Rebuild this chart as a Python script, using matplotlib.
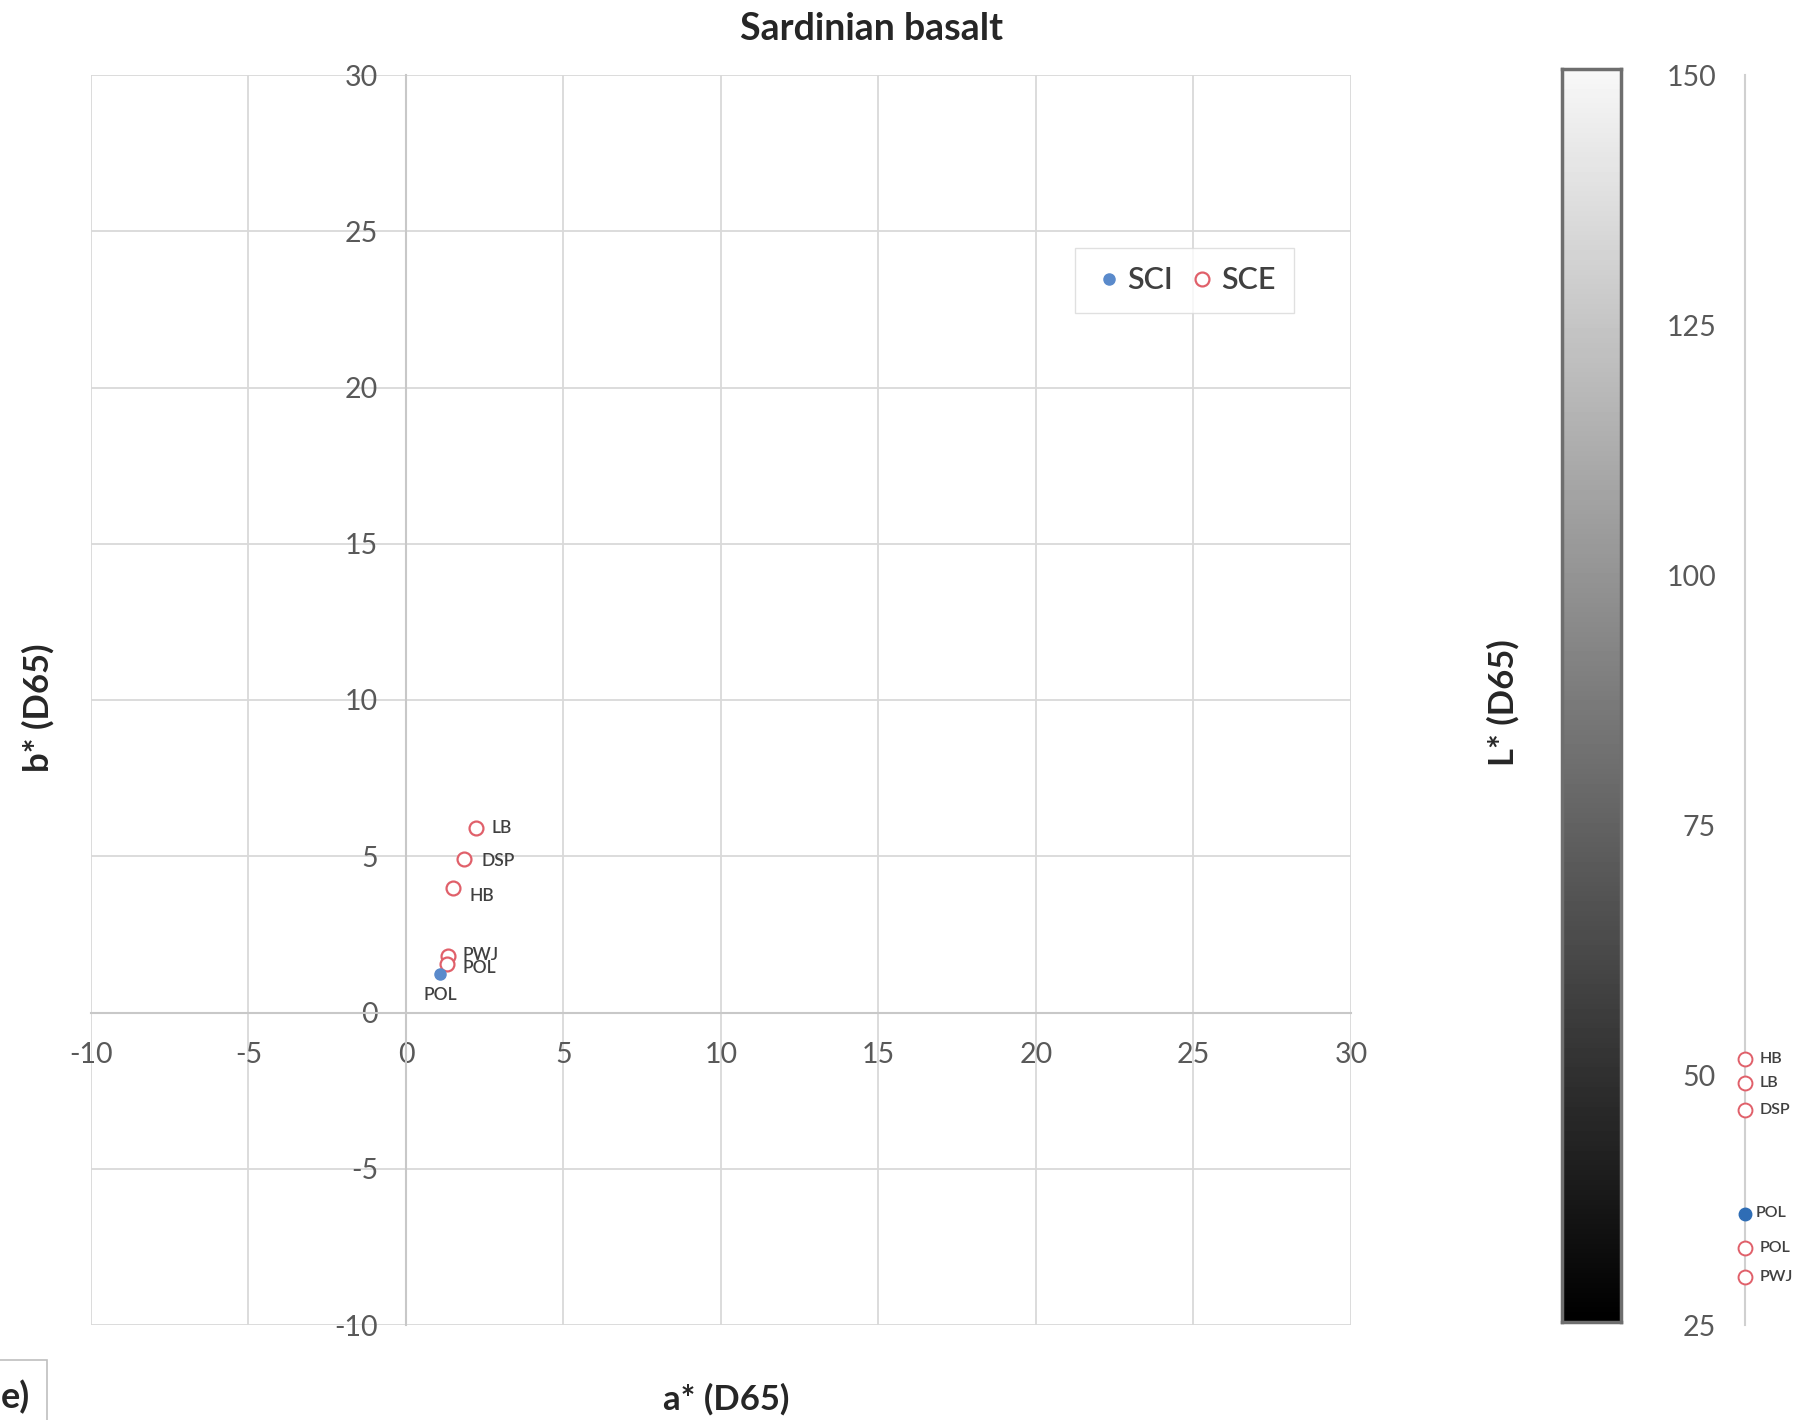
import matplotlib
matplotlib.use("Agg")
import matplotlib.pyplot as plt
import numpy as np
from matplotlib.patches import Rectangle

plt.rcParams['font.family'] = ['Lato', 'DejaVu Sans']

# ---- data ----
sci_labels = ["POL"]
sci_a = [1.08]
sci_b = [1.22]
sci_L = [36.1]

sce_labels = ["LB", "DSP", "HB", "PWJ", "POL"]
sce_a = [2.21, 1.85, 1.48, 1.33, 1.30]
sce_b = [5.90, 4.91, 3.99, 1.81, 1.55]
sce_L = [49.2, 46.5, 51.6, 29.8, 32.7]

ab_ticks = [-10, -5, 0, 5, 10, 15, 20, 25, 30]
L_ticks = [25, 50, 75, 100, 125, 150]

BLUE = "#5A8ACB"
BLUE_DARK = "#2F6DB5"
RED = "#E0606A"
GRID = "#D9D9D9"
TXT = "#595959"

W, H = 1806, 1420
fig = plt.figure(figsize=(W / 100, H / 100), dpi=100)

def fx(px):
    return px / W

def fy(py):
    return 1 - py / H

# ---- main a*/b* plot ----
ax = fig.add_axes([fx(91), fy(1325), fx(1351) - fx(91), fy(75) - fy(1325)])
ax.set_xlim(-10, 30)
ax.set_ylim(-10, 30)
ax.set_xticks(ab_ticks)
ax.set_yticks(ab_ticks)
ax.grid(True, color=GRID, linewidth=1.3)
ax.set_axisbelow(True)
for s in ["top", "right"]:
    ax.spines[s].set_visible(False)
ax.spines["left"].set_position(("data", 0))
ax.spines["bottom"].set_position(("data", 0))
for s in ["left", "bottom"]:
    ax.spines[s].set_color("#C8C8C8")
    ax.spines[s].set_linewidth(1.5)
ax.tick_params(length=0, labelsize=20.5, labelcolor=TXT)
ax.tick_params(axis="y", pad=20)
ax.tick_params(axis="x", pad=21)
ax.set_xticklabels([str(t) for t in ab_ticks])
ax.set_yticklabels([str(t) for t in ab_ticks])

ax.plot(sci_a, sci_b, 'o', color=BLUE, markersize=8, linestyle='none', label="SCI", zorder=4)
ax.plot(sce_a, sce_b, 'o', markerfacecolor='white', markeredgecolor=RED, markeredgewidth=1.6,
        markersize=10, linestyle='none', label="SCE", zorder=3)

sce_off = [(16, 0), (17, -2), (17, -8), (15, 1), (16, -4)]
for lab, a, b, off in zip(sce_labels, sce_a, sce_b, sce_off):
    ax.annotate(lab, (a, b), xytext=off, textcoords='offset pixels', fontsize=12.5,
                fontweight='semibold', color="#404040", ha='left', va='center')
ax.annotate(sci_labels[0], (sci_a[0], sci_b[0]), xytext=(0, -21), textcoords='offset pixels',
            fontsize=12.5, fontweight='semibold', color="#404040", ha='center', va='center')

leg = ax.legend(loc='upper left', bbox_to_anchor=(fx(1075), fy(248)), bbox_transform=fig.transFigure,
                ncol=2, fontsize=22, frameon=True, fancybox=False, edgecolor="#D9D9D9",
                handletextpad=0.12, columnspacing=0.45, handlelength=1.0, borderpad=0.6,
                borderaxespad=0, markerscale=1.0)
for t in leg.get_texts():
    t.set_color("#404040")
    t.set_fontweight('semibold')

# ---- colour bar ----
cax = fig.add_axes([fx(1562), fy(1322), fx(1621) - fx(1562), fy(69) - fy(1322)])
grad = np.linspace(0, 1, 256).reshape(-1, 1)
cax.imshow(grad, aspect='auto', cmap='gray', origin='lower', extent=[0, 1, 0, 1], vmin=0, vmax=1.03)
cax.set_xticks([])
cax.set_yticks([])
for s in cax.spines.values():
    s.set_color("#6E6E6E")
    s.set_linewidth(2.5)

# ---- L* axis ----
lax = fig.add_axes([fx(1730), fy(1325), fx(1806) - fx(1730), fy(75) - fy(1325)])
lax.set_xlim(-0.2, 0.8)
lax.set_ylim(25, 150)
lax.set_yticks(L_ticks)
lax.set_xticks([])
for s in ["top", "right", "bottom"]:
    lax.spines[s].set_visible(False)
lax.spines["left"].set_position(("data", 0))
lax.spines["left"].set_color("#D0D0D0")
lax.spines["left"].set_linewidth(1.5)
lax.tick_params(axis='y', length=0, labelsize=20.5, labelcolor=TXT, pad=21)
lax.patch.set_alpha(0)

lax.plot([0] * len(sci_L), sci_L, 'o', color=BLUE_DARK, markersize=9, linestyle='none', zorder=4, clip_on=False)
lax.plot([0] * len(sce_L), sce_L, 'o', markerfacecolor='white', markeredgecolor=RED,
         markeredgewidth=1.4, markersize=10, linestyle='none', zorder=3, clip_on=False)
for lab, L in zip(sce_labels, sce_L):
    lax.annotate(lab, (0, L), xytext=(14, 0), textcoords='offset pixels', fontsize=11.5,
                 fontweight='semibold', color="#404040", ha='left', va='center')
for lab, L in zip(sci_labels, sci_L):
    lax.annotate(lab, (0, L), xytext=(10, 1), textcoords='offset pixels', fontsize=11.5,
                 fontweight='semibold', color="#404040", ha='left', va='center')

# ---- text ----
fig.text(fx(872), fy(29), "Sardinian basalt", ha='center', va='center', fontsize=27,
         fontweight='bold', color="#262626")
fig.text(fx(38), fy(708), "b* (D65)", ha='center', va='center', rotation=90, fontsize=25,
         fontweight='bold', color="#262626")
fig.text(fx(726), fy(1399), "a* (D65)", ha='center', va='center', fontsize=25,
         fontweight='bold', color="#262626")
fig.text(fx(1503), fy(703), "L* (D65)", ha='center', va='center', rotation=90, fontsize=25,
         fontweight='bold', color="#262626")

fig.patches.append(Rectangle((-0.01, -0.01), fx(47) + 0.01, (H - 1360) / H + 0.01,
                             transform=fig.transFigure, facecolor='none', edgecolor="#BFBFBF",
                             linewidth=1.2))
fig.text(fx(15), fy(1397), "e)", ha='center', va='center', fontsize=26, fontweight='bold',
         color="#262626")

fig.savefig("out.png", dpi=100)
